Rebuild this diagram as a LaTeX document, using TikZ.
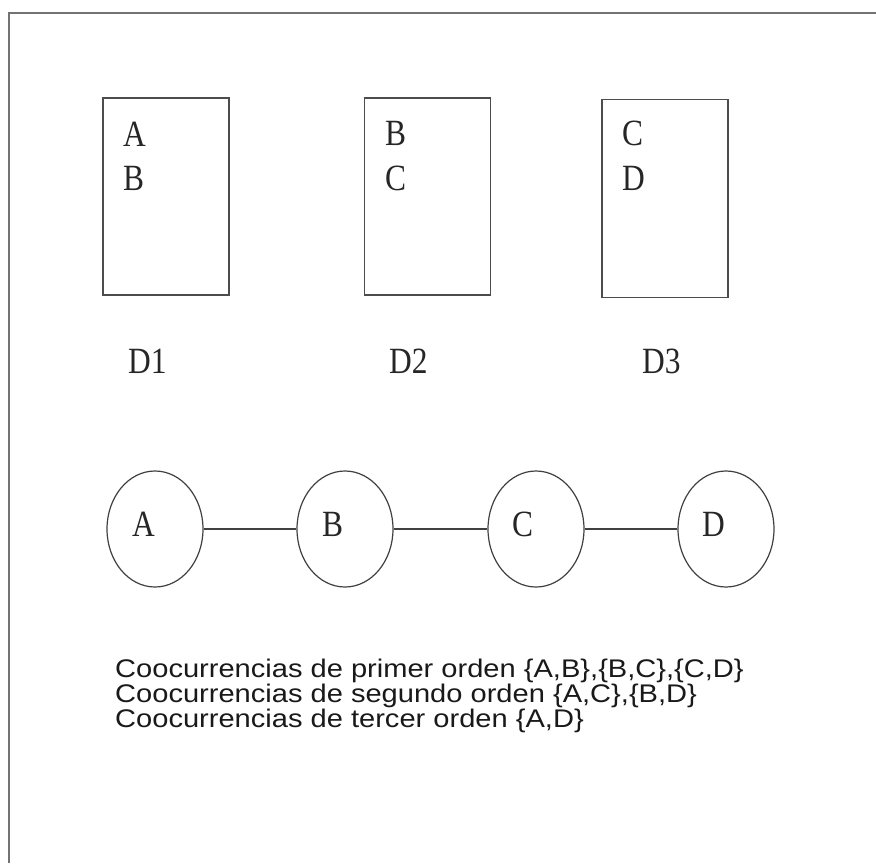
\documentclass[tikz,border=0pt]{standalone}
\usepackage{fontspec}
\setmainfont{Liberation Serif}
\newfontfamily\capsans{Liberation Sans}
\usetikzlibrary{shapes.geometric}
\newcommand\termtext[1]{\scalebox{0.85}[1]{\fontsize{37}{37}\selectfont #1}}
\newcommand\captext[1]{\scalebox{1.14}[1]{\capsans\fontsize{25.5}{25}\selectfont #1}}
\begin{document}
\begin{tikzpicture}[x=1pt,y=-1pt,
  frame/.style={draw=black!55, line width=2pt},
  docbox/.style={rectangle, draw=black!70, line width=1.6pt, minimum width=126pt,
    minimum height=197pt, inner sep=0pt},
  termnode/.style={ellipse, draw=black!75, line width=1.2pt, minimum width=96pt,
    minimum height=116pt, inner sep=0pt},
  letter/.style={anchor=base west, inner sep=0pt, text=black!85},
  link/.style={draw=black!75, line width=1.2pt},
  caption/.style={anchor=base west, inner sep=0pt, text=black!90}
]
\useasboundingbox (0,0) rectangle (876,863);

% outer frame (top and left edges)
\draw[frame] (9,863) -- (9,13) -- (876,13);

% documents
\node[docbox] (d1) at (166,196.5) {};
\node[docbox] (d2) at (427.5,196.5) {};
\node[docbox, minimum height=198pt] (d3) at (665,198.5) {};

\node[letter] (d1a) at (123,146) {\termtext{A}};
\node[letter] (d1b) at (123,190) {\termtext{B}};
\node[letter] (d2a) at (385,145) {\termtext{B}};
\node[letter] (d2b) at (385,190) {\termtext{C}};
\node[letter] (d3a) at (622,145) {\termtext{C}};
\node[letter] (d3b) at (622,190) {\termtext{D}};

% document labels
\node[letter] (l1) at (128,373) {\termtext{D1}};
\node[letter] (l2) at (389,373) {\termtext{D2}};
\node[letter] (l3) at (642,373) {\termtext{D3}};

% co-occurrence graph
\node[termnode] (ta) at (155,529) {};
\node[termnode] (tb) at (345,529) {};
\node[termnode] (tc) at (536,529) {};
\node[termnode] (td) at (726,529) {};

\node[letter] (ka) at (132,536) {\termtext{A}};
\node[letter] (kb) at (322,536) {\termtext{B}};
\node[letter] (kc) at (512,536) {\termtext{C}};
\node[letter] (kd) at (702,536) {\termtext{D}};

\draw[link] (ta) -- (tb);
\draw[link] (tb) -- (tc);
\draw[link] (tc) -- (td);

% orders of co-occurrence
\node[caption] (c1) at (115,677) {\captext{Coocurrencias de primer orden \{A,B\},\{B,C\},\{C,D\}}};
\node[caption] (c2) at (115,702) {\captext{Coocurrencias de segundo orden \{A,C\},\{B,D\}}};
\node[caption] (c3) at (115,727) {\captext{Coocurrencias de tercer orden \{A,D\}}};
\end{tikzpicture}
\end{document}
